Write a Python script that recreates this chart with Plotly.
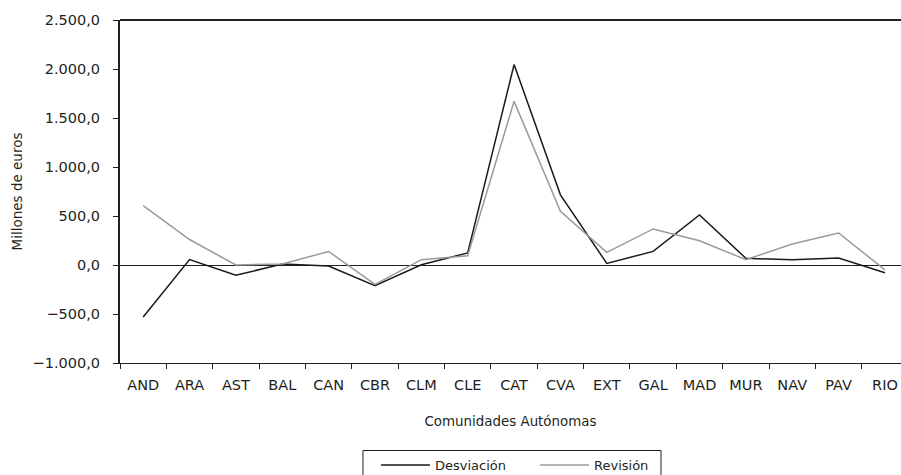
import plotly.graph_objects as go

categories = ["AND", "ARA", "AST", "BAL", "CAN", "CBR", "CLM", "CLE", "CAT",
              "CVA", "EXT", "GAL", "MAD", "MUR", "NAV", "PAV", "RIO"]
desviacion = [-530, 55, -105, 10, -10, -210, 3, 123, 2045,
              716, 16, 139, 511, 68, 54, 71, -79]
revision = [605, 260, 0, 10, 138, -198, 54, 95, 1670,
            548, 129, 368, 248, 54, 215, 327, -50]

y_ticks = [-1000, -500, 0, 500, 1000, 1500, 2000, 2500]

FONT = "DejaVu Sans"
TXT = "#231f20"

fig = go.Figure()
fig.add_trace(go.Scatter(x=categories, y=desviacion, mode="lines", name="Desviación",
                         line=dict(color="#1a1a1a", width=1.5), legend="legend"))
fig.add_trace(go.Scatter(x=categories, y=revision, mode="lines", name="Revisión",
                         line=dict(color="#9a9a9a", width=1.5), legend="legend2"))

leg_common = dict(orientation="h", yanchor="top", xanchor="left", borderwidth=0,
                  bgcolor="rgba(0,0,0,0)", font=dict(size=13, family=FONT, color=TXT),
                  itemwidth=49)

fig.update_layout(
    width=901, height=475,
    margin=dict(l=120, r=0, t=20, b=112, autoexpand=False),
    paper_bgcolor="white", plot_bgcolor="white",
    font=dict(family=FONT, color=TXT, size=13),
    separators=",.",
    showlegend=True,
    legend=dict(x=0.3277, y=-0.254, **leg_common),
    legend2=dict(x=0.5314, y=-0.254, **leg_common),
    xaxis=dict(
        type="category", range=[-0.5, 16.346],
        showline=True, linecolor="#231f20", linewidth=1,
        ticks="outside", tickson="boundaries", ticklen=5, tickcolor="#231f20",
        tickfont=dict(size=14.5, family=FONT, color=TXT), ticklabelstandoff=9,
        showgrid=False, zeroline=False,
        title=dict(text="Comunidades Autónomas", font=dict(size=13.4, family=FONT), standoff=24),
    ),
    yaxis=dict(
        range=[-1000, 2500], tickvals=y_ticks, tickformat=",.1f",
        showline=True, linecolor="#231f20", linewidth=2,
        ticks="outside", ticklen=5, tickcolor="#231f20",
        tickfont=dict(size=14.5, family=FONT, color=TXT), ticklabelstandoff=10,
        showgrid=False, zeroline=True, zerolinecolor="#231f20", zerolinewidth=1.3,
        title=dict(text="Millones de euros", font=dict(size=13.5, family=FONT), standoff=7),
    ),
    shapes=[
        dict(type="line", xref="paper", yref="paper", x0=0, x1=1, y0=1, y1=1,
             line=dict(color="#231f20", width=2)),
        dict(type="rect", xref="paper", yref="paper", x0=0.3111, x1=0.6927,
             y0=-0.2551, y1=-0.37, line=dict(color="#231f20", width=1),
             fillcolor="rgba(0,0,0,0)"),
    ],
)

fig.write_html("out.html", config={"displayModeBar": False},
               post_script="document.body.style.margin='0';")
